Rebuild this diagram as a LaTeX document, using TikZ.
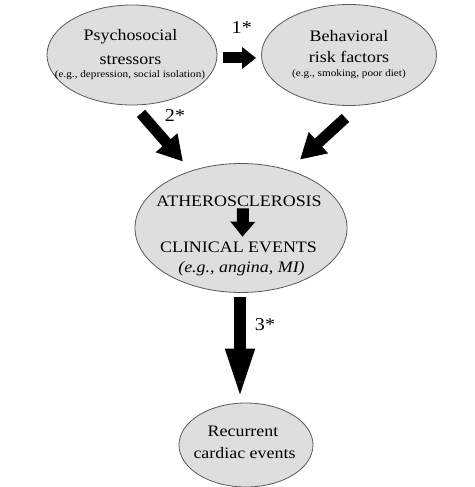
\documentclass[tikz,border=0pt]{standalone}
\usepackage{fontspec}
\setmainfont{Liberation Serif}[FakeStretch=1.12]
\usetikzlibrary{shapes.geometric,arrows.meta}

\tikzset{
  bubble/.style={ellipse, draw=black!65, line width=0.8pt, fill=black!13, inner sep=0pt},
  txt/.style={anchor=base, inner sep=0pt, font=\fontsize{16}{19}\selectfont},
  smalltxt/.style={anchor=base, inner sep=0pt, font=\fontsize{10}{12}\selectfont},
  lbl/.style={inner sep=0pt, font=\fontsize{18}{21}\selectfont},
  fatarrow/.style={line width=11pt, -{Triangle[length=14pt,width=21pt]}}
}

\begin{document}
\begin{tikzpicture}[x=1pt,y=1pt]
  \useasboundingbox (0,0) rectangle (474,487);

  % ellipses
  \node[bubble, minimum width=170pt, minimum height=100pt] (psy) at (132,432) {};
  \node[bubble, minimum width=175pt, minimum height=101pt] (beh) at (349,432) {};
  \node[bubble, minimum width=212pt, minimum height=129pt] (ath) at (241,259) {};
  \node[bubble, minimum width=134pt, minimum height=84pt] (rec) at (246,42) {};

  % texts
  \node[txt] (psy1) at ([shift={(-1.5,14)}]psy.center) {Psychosocial};
  \node[txt] (psy2) at ([shift={(-1.5,-10)}]psy.center) {stressors};
  \node[smalltxt] (psy3) at ([shift={(-2,-23)}]psy.center) {(e.g., depression, social isolation)};

  \node[txt] (beh1) at ([shift={(0,13)}]beh.center) {Behavioral};
  \node[txt] (beh2) at ([shift={(0,-8)}]beh.center) {risk factors};
  \node[smalltxt] (beh3) at ([shift={(0,-22)}]beh.center) {(e.g., smoking, poor diet)};

  \node[txt] (ath1) at ([shift={(-2,21)}]ath.center) {ATHEROSCLEROSIS};
  \node[txt] (clin) at ([shift={(-2.5,-25)}]ath.center) {CLINICAL EVENTS};
  \node[txt] (clin2) at ([shift={(0.5,-45)}]ath.center) {\itshape (e.g., angina, MI)};

  \node[txt] (rec1) at ([shift={(-3,8)}]rec.center) {Recurrent};
  \node[txt] (rec2) at ([shift={(-1.5,-14)}]rec.center) {cardiac events};

  % arrows
  \draw[fatarrow] ([shift={(6,-3)}]psy.east) -- node[lbl, midway, above=19pt, xshift=2pt] {1*} ([shift={(-5,-3)}]beh.west);
  \draw[fatarrow, -{Triangle[length=25pt,width=27pt]}] ([shift={(9,-8)}]psy.south)
    -- node[lbl, midway, shift={(13pt,22pt)}] {2*} ([shift={(-58,1.5)}]ath.north);
  \draw[fatarrow, -{Triangle[length=25pt,width=27pt]}] ([shift={(-3.5,-12)}]beh.south) -- ([shift={(59,3.5)}]ath.north);
  \draw[fatarrow, line width=12pt, -{Triangle[length=15pt,width=24pt]}] ([shift={(4,-1)}]ath1.south) -- ([shift={(4,5.5)}]clin.north);
  \draw[fatarrow, line width=12pt, -{Triangle[length=51pt,width=26pt]}] ([shift={(-1,-4.5)}]ath.south)
    -- node[lbl, pos=0.27, xshift=25pt] {3*} ([shift={(-6,3)}]rec.north);
\end{tikzpicture}
\end{document}
